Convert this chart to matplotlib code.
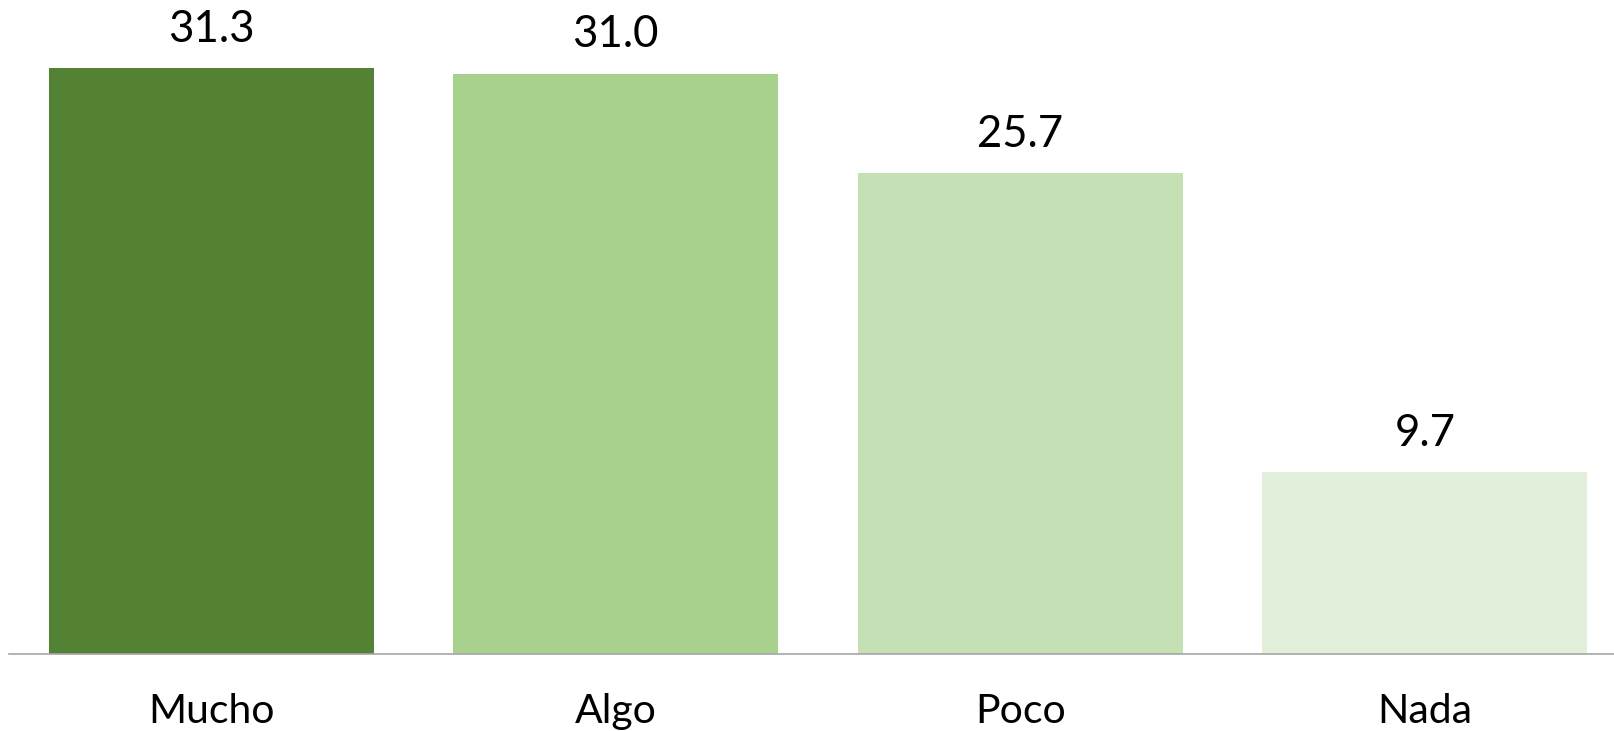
import matplotlib
matplotlib.use("Agg")
import matplotlib.pyplot as plt

categories = ["Mucho", "Algo", "Poco", "Nada"]
values = [31.3, 31.0, 25.7, 9.7]
labels = ["31.3", "31.0", "25.7", "9.7"]
colors = ["#548235", "#A9D18E", "#C5E0B4", "#E2EFDA"]

plt.rcParams['font.family'] = ['Lato', 'DejaVu Sans']

fig = plt.figure(figsize=(16.15, 7.31), dpi=100)
ax = fig.add_axes([9/1615, 77/731, 1 - 9/1615, 654/731])

x = list(range(len(categories)))
bars = ax.bar(x, values, width=0.803, color=colors, edgecolor='none')
ax.set_xlim(-0.5, 3.47)
ax.set_ylim(0, 654/18.72)

for xi, v, lab in zip(x, values, labels):
    ax.annotate(lab, (xi, v), xytext=(0, 19), textcoords='offset points',
                ha='center', va='baseline', fontsize=31.5, color='#000000')

ax.set_xticks(x)
ax.set_xticklabels(categories, fontsize=29.5, color='#000000')
ax.tick_params(axis='x', length=0, pad=28)
ax.set_yticks([])
for s in ['top', 'left', 'right']:
    ax.spines[s].set_visible(False)
ax.spines['bottom'].set_color('#A6A6A6')
ax.spines['bottom'].set_linewidth(1.2)

fig.savefig("out.png", dpi=100)
